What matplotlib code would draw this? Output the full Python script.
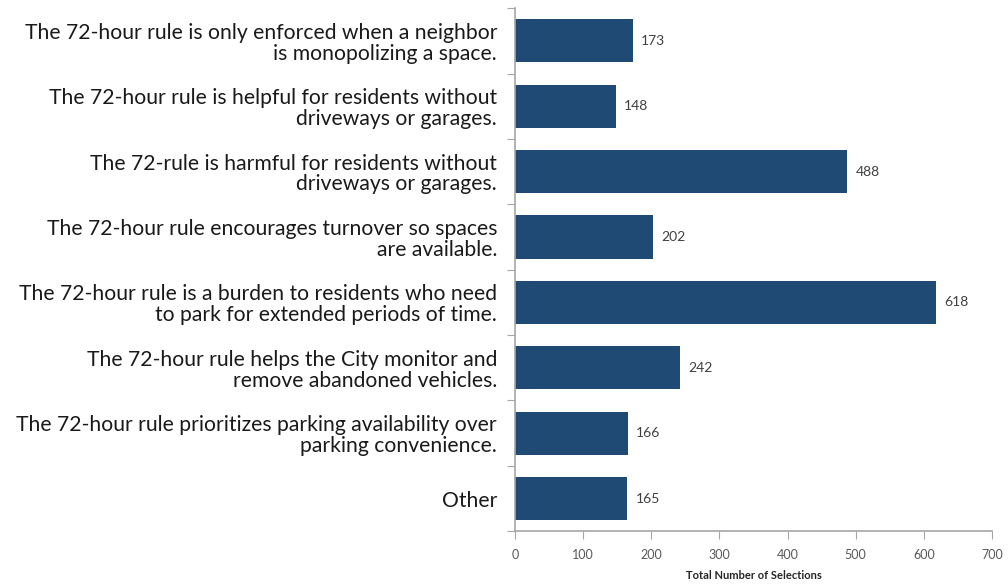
import matplotlib
matplotlib.use("Agg")

import matplotlib.pyplot as plt
import numpy as np

categories = [
    "The 72-hour rule is only enforced when a neighbor\nis monopolizing a space.",
    "The 72-hour rule is helpful for residents without\ndriveways or garages.",
    "The 72-rule is harmful for residents without\ndriveways or garages.",
    "The 72-hour rule encourages turnover so spaces\nare available.",
    "The 72-hour rule is a burden to residents who need\nto park for extended periods of time.",
    "The 72-hour rule helps the City monitor and\nremove abandoned vehicles.",
    "The 72-hour rule prioritizes parking availability over\nparking convenience.",
    "Other",
]
selections = [173, 148, 488, 202, 618, 242, 166, 165]
x_ticks = [0, 100, 200, 300, 400, 500, 600, 700]

bar_color = "#1F4A73"
axis_color = "#A6A6A6"

plt.rcParams['font.family'] = ['Lato', 'DejaVu Sans']

fig = plt.figure(figsize=(10.08, 5.87), dpi=100)
ax = fig.add_axes([0.511, 0.095, 0.473, 0.891])

y = np.arange(len(categories))
ax.barh(y, selections, height=0.66, color=bar_color)

for yi, val in zip(y, selections):
    ax.text(val + 12, yi, str(val), va="center", ha="left", fontsize=10, color="#404040")

ax.set_ylim(len(categories) - 0.5, -0.5)
ax.set_xlim(0, 700)
ax.set_xticks(x_ticks)
ax.tick_params(axis="x", labelsize=9, labelcolor="#595959", color=axis_color, length=6, direction="out", pad=7)

# y ticks sit at category boundaries, labels at centres
ax.set_yticks(np.arange(len(categories) + 1) - 0.5)
ax.set_yticklabels([])
ax.set_yticks(y, minor=True)
ax.set_yticklabels(categories, minor=True, fontsize=15.2, color="#1a1a1a", linespacing=1.05)
ax.tick_params(axis="y", which="major", color=axis_color, length=6, direction="out")
ax.tick_params(axis="y", which="minor", length=0, pad=13)
for lbl in ax.get_yticklabels(minor=True):
    lbl.set_horizontalalignment("right")

for side in ["top", "right"]:
    ax.spines[side].set_visible(False)
for side in ["left", "bottom"]:
    ax.spines[side].set_color(axis_color)
    ax.spines[side].set_linewidth(1.2)

ax.set_xlabel("Total Number of Selections", fontsize=8, fontweight="bold", color="#262626", labelpad=6)

plt.savefig("out.png", dpi=100)
plt.close(fig)
